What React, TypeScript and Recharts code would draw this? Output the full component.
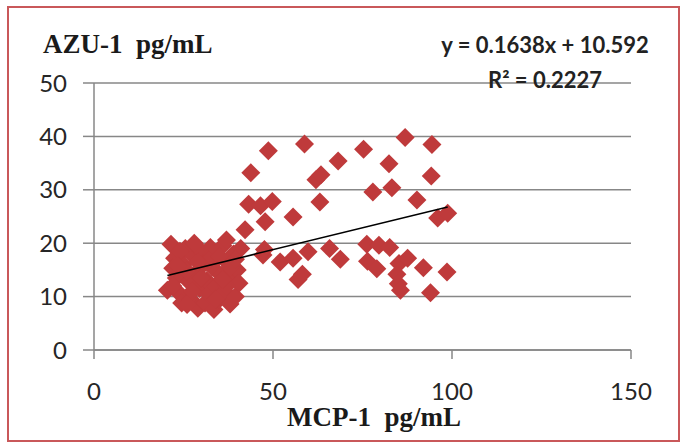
import { ScatterChart, Scatter, XAxis, YAxis, CartesianGrid } from 'recharts';

// MCP-1 (x) and AZU-1 (y), pg/mL
const mcp1 = [
    20.5, 21.5, 22.5, 23, 24, 24.5, 25, 25.5, 26.5, 27, 27.5, 28.5, 29, 29.5, 30, 30.5, 31, 31.5, 32, 32.5,
    33, 33.5, 34, 34.5, 35, 35.5, 36, 36.5, 37, 37.5, 38, 38.5, 39, 39.5, 40, 40.5, 41, 28, 26, 33, 22,
    22, 24, 27.5, 30, 32, 35, 37, 38, 26, 34, 29, 36, 39.5, 23.5,
    42.2, 43.8, 43.2, 46.5, 49.8, 47.8, 48.7, 47.2, 47.6, 52, 55.6, 55.6, 57, 58.2, 58.8, 59.8, 62, 63.4,
    63.1, 65.8, 68.2, 68.8, 75.3, 76.2, 76.4, 77.9, 79, 79.6, 82.6, 82.4, 83.2, 84.6, 85, 85.6, 85.2, 86.9,
    87.6, 90.2, 92, 94.4, 94.2, 94, 96, 98.8, 98.6,
];
const azu1 = [
    11.2, 19.8, 17.2, 13.5, 10.5, 8.8, 16, 19, 12.8, 9.5, 17.8, 14.5, 7.8, 11.5, 18.5, 16, 8.8, 13, 10.5, 19.2,
    15.5, 7.6, 12, 17.2, 9.5, 14, 19.5, 11, 20.6, 16.2, 8.6, 13, 18, 10, 15, 12.5, 19, 20, 14.8, 18, 15.3,
    12, 18.5, 11, 13.5, 16.8, 17.5, 12, 15.5, 8.5, 9.5, 16.5, 13.2, 17, 15.8,
    22.5, 33.2, 27.3, 27, 27.8, 24, 37.3, 17.8, 18.8, 16.5, 17.2, 24.9, 13.2, 14.2, 38.6, 18.4, 31.9, 32.8,
    27.7, 19, 35.4, 17, 37.6, 19.8, 16.6, 29.6, 15.2, 19.6, 19.2, 34.9, 30.4, 14.2, 12.4, 11.2, 16.2, 39.8,
    17.2, 28.1, 15.4, 38.5, 32.6, 10.7, 24.7, 25.6, 14.6,
];

const slope = 0.1638;
const intercept = 10.592;
const xTicks = [0, 50, 100, 150];
const yTicks = [0, 10, 20, 30, 40, 50];

const points = mcp1.map((x, i) => ({ x, y: azu1[i] }));
const xMin = Math.min(...mcp1);
const xMax = Math.max(...mcp1);
const trend = [xMin, xMax].map((x) => ({ x, y: slope * x + intercept }));

const Diamond = (props: any) => {
    const { cx, cy } = props;
    const h = 9.5;
    return (
        <polygon
            points={`${cx},${cy - h} ${cx + h},${cy} ${cx},${cy + h} ${cx - h},${cy}`}
            fill="#BF3A3B"
        />
    );
};

const tickStyle = { fill: '#262626', fontSize: 24, fontFamily: 'Lato' };
const titleStyle = { fontFamily: '"Liberation Serif"', fontWeight: 700, fontSize: 27, fill: '#1a1a1a', whiteSpace: 'pre' as const };
const eqStyle = { fontFamily: 'Lato', fontWeight: 700, fontSize: 22, fill: '#222' };

export default function App() {
    return (
        <div style={{ position: 'absolute', left: 0, top: 0, width: 688, height: 444, background: '#fff' }}>
            <ScatterChart width={688} height={444} margin={{ top: 83, right: 57, bottom: 34, left: 0 }}>
                <CartesianGrid vertical={false} stroke="#878787" strokeWidth={1.5} />
                <XAxis
                    type="number"
                    dataKey="x"
                    domain={[0, 150]}
                    ticks={xTicks}
                    height={60}
                    tickSize={9}
                    tickMargin={24}
                    axisLine={{ stroke: '#878787', strokeWidth: 1.5 }}
                    tickLine={{ stroke: '#878787', strokeWidth: 1.5 }}
                    tick={tickStyle}
                />
                <YAxis
                    type="number"
                    dataKey="y"
                    domain={[0, 50]}
                    ticks={yTicks}
                    width={94}
                    tickSize={11}
                    tickMargin={16}
                    axisLine={{ stroke: '#878787', strokeWidth: 1.5 }}
                    tickLine={{ stroke: '#878787', strokeWidth: 1.5 }}
                    tick={tickStyle}
                />
                <Scatter data={points} shape={Diamond} isAnimationActive={false} />
                <Scatter
                    data={trend}
                    line={{ stroke: '#000', strokeWidth: 1.5 }}
                    shape={() => <g />}
                    isAnimationActive={false}
                />
            </ScatterChart>
            <svg width={688} height={444} style={{ position: 'absolute', left: 0, top: 0, pointerEvents: 'none' }}>
                <rect x={8} y={7} width={671} height={434} fill="none" stroke="#C9585A" strokeWidth={2} />
                <text x={43} y={53} style={titleStyle}>AZU-1  pg/mL</text>
                <text x={374} y={426} textAnchor="middle" style={titleStyle}>MCP-1  pg/mL</text>
                <text x={545} y={53} textAnchor="middle" style={eqStyle}>y = 0.1638x + 10.592</text>
                <text x={545} y={88} textAnchor="middle" style={eqStyle}>R² = 0.2227</text>
            </svg>
        </div>
    );
}
